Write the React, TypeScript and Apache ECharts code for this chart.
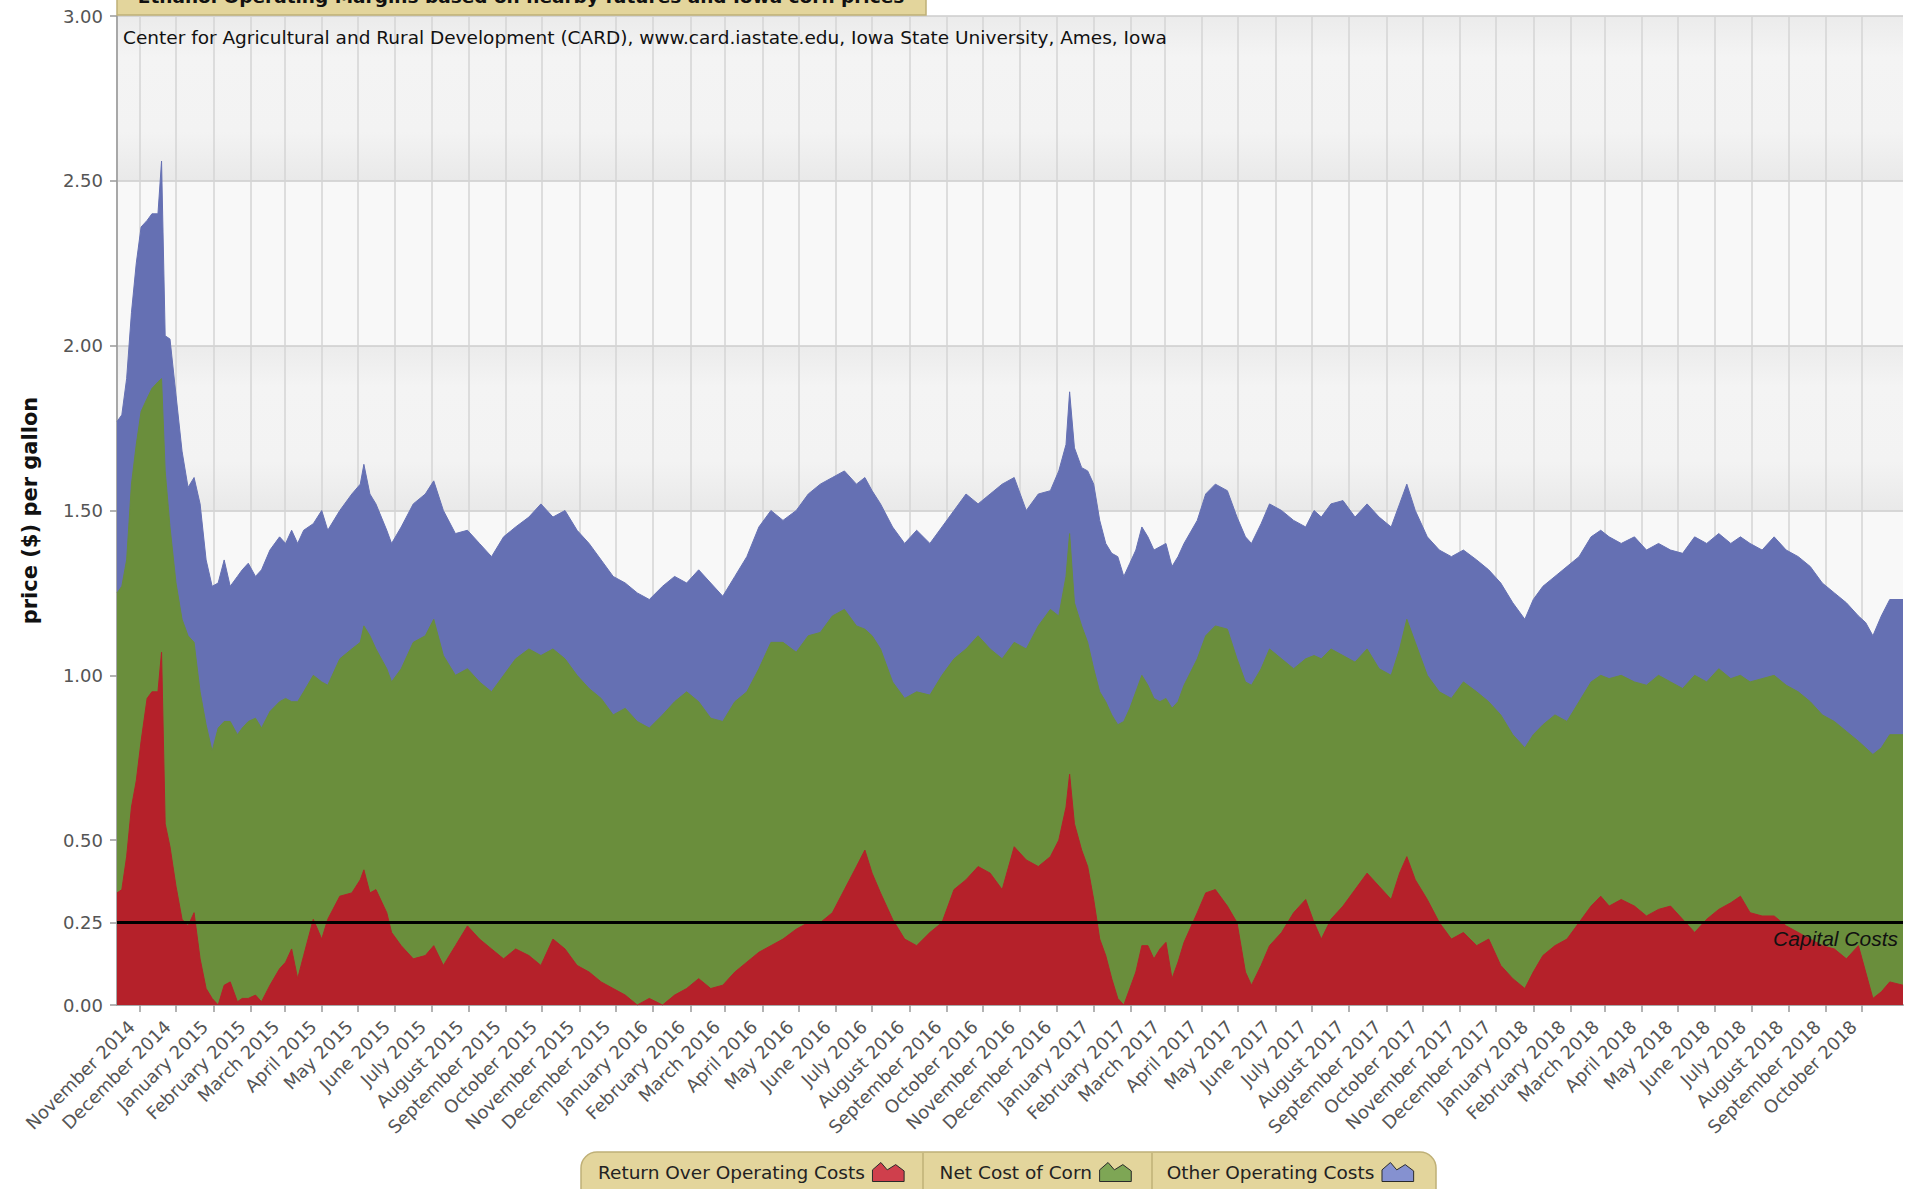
import React, { useEffect, useRef } from "react";
import * as echarts from "echarts";

// ---------- data ----------
const START_UTC = Date.UTC(2014, 9, 13); // first day shown on the x axis
const DAY_COUNT = 1484;
const LAST_LABELLED_MONTH = "2018-10-01";
const MONTHS = ["January", "February", "March", "April", "May", "June", "July", "August", "September", "October", "November", "December"];

const TITLE = "Ethanol Operating Margins based on nearby futures and Iowa corn prices";
const SUBTITLE = "Center for Agricultural and Rural Development (CARD), www.card.iastate.edu, Iowa State University, Ames, Iowa";
const Y_NAME = "price ($) per gallon";
const SERIES_NAMES = ["Return Over Operating Costs", "Net Cost of Corn", "Other Operating Costs"];
const Y_LABELS = [0, 0.25, 0.5, 1, 1.5, 2, 2.5, 3];
const CAPITAL_COST = 0.25;
const CAPITAL_LABEL = "Capital Costs";

// sample positions: day index counted from START_UTC
const sampleDay = [
  0, 4, 8, 12, 16, 20, 25, 29, 34, 37,
  40, 44, 49, 54, 59, 64, 69, 74, 79, 84,
  89, 94, 100, 104, 109, 115, 120, 127, 135, 140,
  145, 150, 155, 163, 170, 175, 185, 195, 202, 205,
  210, 215, 224, 228, 236, 246, 256, 263, 271, 281,
  291, 301, 311, 321, 331, 342, 352, 362, 372, 382,
  392, 402, 412, 422, 432, 442, 453, 463, 473, 483,
  493, 503, 513, 523, 533, 543, 553, 564, 574, 584,
  594, 604, 614, 621, 627, 634, 644, 654, 664, 675,
  685, 695, 705, 715, 725, 735, 745, 755, 765, 775,
  782, 788, 791, 795, 801, 806, 811, 816, 821, 826,
  831, 836, 841, 846, 851, 856, 861, 866, 871, 876,
  881, 886, 897, 904, 912, 922, 930, 937, 942, 950,
  957, 967, 977, 987, 994, 1000, 1008, 1018, 1028, 1038,
  1048, 1058, 1065, 1071, 1078, 1088, 1098, 1108, 1118, 1129,
  1139, 1149, 1159, 1169, 1176, 1184, 1194, 1204, 1214, 1224,
  1232, 1239, 1249, 1260, 1270, 1280, 1290, 1300, 1310, 1320,
  1330, 1340, 1348, 1356, 1366, 1376, 1386, 1396, 1406, 1416,
  1426, 1436, 1446, 1452, 1458, 1465, 1472, 1483,
];

// top of the blue area (other operating costs)
const otherTop = [
  1.77, 1.79, 1.90, 2.10, 2.25, 2.36, 2.38, 2.40, 2.40, 2.56,
  2.03, 2.02, 1.85, 1.68, 1.57, 1.60, 1.52, 1.35, 1.27, 1.28,
  1.35, 1.27, 1.30, 1.32, 1.34, 1.30, 1.32, 1.38, 1.42, 1.40,
  1.44, 1.40, 1.44, 1.46, 1.50, 1.44, 1.50, 1.55, 1.58, 1.64,
  1.55, 1.52, 1.44, 1.40, 1.45, 1.52, 1.55, 1.59, 1.50, 1.43,
  1.44, 1.40, 1.36, 1.42, 1.45, 1.48, 1.52, 1.48, 1.50, 1.44,
  1.40, 1.35, 1.30, 1.28, 1.25, 1.23, 1.27, 1.30, 1.28, 1.32,
  1.28, 1.24, 1.30, 1.36, 1.45, 1.50, 1.47, 1.50, 1.55, 1.58,
  1.60, 1.62, 1.58, 1.60, 1.56, 1.52, 1.45, 1.40, 1.44, 1.40,
  1.45, 1.50, 1.55, 1.52, 1.55, 1.58, 1.60, 1.50, 1.55, 1.56,
  1.62, 1.70, 1.86, 1.69, 1.63, 1.62, 1.58, 1.47, 1.40, 1.37,
  1.36, 1.30, 1.34, 1.38, 1.45, 1.42, 1.38, 1.39, 1.40, 1.33,
  1.36, 1.40, 1.47, 1.55, 1.58, 1.56, 1.48, 1.42, 1.40, 1.46,
  1.52, 1.50, 1.47, 1.45, 1.50, 1.48, 1.52, 1.53, 1.48, 1.52,
  1.48, 1.45, 1.52, 1.58, 1.50, 1.42, 1.38, 1.36, 1.38, 1.35,
  1.32, 1.28, 1.22, 1.17, 1.23, 1.27, 1.30, 1.33, 1.36, 1.42,
  1.44, 1.42, 1.40, 1.42, 1.38, 1.40, 1.38, 1.37, 1.42, 1.40,
  1.43, 1.40, 1.42, 1.40, 1.38, 1.42, 1.38, 1.36, 1.33, 1.28,
  1.25, 1.22, 1.18, 1.16, 1.12, 1.18, 1.23, 1.23,
];

// top of the green area (net cost of corn)
const cornTop = [
  1.25, 1.27, 1.35, 1.58, 1.70, 1.80, 1.84, 1.87, 1.89, 1.90,
  1.62, 1.45, 1.28, 1.17, 1.12, 1.10, 0.95, 0.85, 0.77, 0.84,
  0.86, 0.86, 0.82, 0.84, 0.86, 0.87, 0.84, 0.89, 0.92, 0.93,
  0.92, 0.92, 0.95, 1.00, 0.98, 0.97, 1.05, 1.08, 1.10, 1.15,
  1.12, 1.08, 1.02, 0.98, 1.02, 1.10, 1.12, 1.17, 1.06, 1.00,
  1.02, 0.98, 0.95, 1.00, 1.05, 1.08, 1.06, 1.08, 1.05, 1.00,
  0.96, 0.93, 0.88, 0.90, 0.86, 0.84, 0.88, 0.92, 0.95, 0.92,
  0.87, 0.86, 0.92, 0.95, 1.02, 1.10, 1.10, 1.07, 1.12, 1.13,
  1.18, 1.20, 1.15, 1.14, 1.12, 1.08, 0.98, 0.93, 0.95, 0.94,
  1.00, 1.05, 1.08, 1.12, 1.08, 1.05, 1.10, 1.08, 1.15, 1.20,
  1.18, 1.30, 1.43, 1.22, 1.15, 1.10, 1.02, 0.95, 0.92, 0.88,
  0.85, 0.86, 0.90, 0.95, 1.00, 0.97, 0.93, 0.92, 0.93, 0.90,
  0.92, 0.97, 1.05, 1.12, 1.15, 1.14, 1.05, 0.98, 0.97, 1.02,
  1.08, 1.05, 1.02, 1.05, 1.06, 1.05, 1.08, 1.06, 1.04, 1.08,
  1.02, 1.00, 1.08, 1.17, 1.10, 1.00, 0.95, 0.93, 0.98, 0.95,
  0.92, 0.88, 0.82, 0.78, 0.82, 0.85, 0.88, 0.86, 0.92, 0.98,
  1.00, 0.99, 1.00, 0.98, 0.97, 1.00, 0.98, 0.96, 1.00, 0.98,
  1.02, 0.99, 1.00, 0.98, 0.99, 1.00, 0.97, 0.95, 0.92, 0.88,
  0.86, 0.83, 0.80, 0.78, 0.76, 0.78, 0.82, 0.82,
];

// top of the red area (return over operating costs)
const returnTop = [
  0.34, 0.35, 0.45, 0.60, 0.68, 0.80, 0.93, 0.95, 0.95, 1.07,
  0.55, 0.48, 0.36, 0.26, 0.24, 0.28, 0.14, 0.05, 0.02, 0.00,
  0.06, 0.07, 0.01, 0.02, 0.02, 0.03, 0.01, 0.06, 0.11, 0.13,
  0.17, 0.08, 0.15, 0.26, 0.20, 0.26, 0.33, 0.34, 0.38, 0.41,
  0.34, 0.35, 0.28, 0.22, 0.18, 0.14, 0.15, 0.18, 0.12, 0.18,
  0.24, 0.20, 0.17, 0.14, 0.17, 0.15, 0.12, 0.20, 0.17, 0.12,
  0.10, 0.07, 0.05, 0.03, 0.00, 0.02, 0.00, 0.03, 0.05, 0.08,
  0.05, 0.06, 0.10, 0.13, 0.16, 0.18, 0.20, 0.23, 0.25, 0.25,
  0.28, 0.35, 0.42, 0.47, 0.40, 0.34, 0.26, 0.20, 0.18, 0.22,
  0.25, 0.35, 0.38, 0.42, 0.40, 0.35, 0.48, 0.44, 0.42, 0.45,
  0.50, 0.60, 0.70, 0.55, 0.47, 0.42, 0.32, 0.20, 0.15, 0.08,
  0.02, 0.00, 0.05, 0.10, 0.18, 0.18, 0.14, 0.17, 0.19, 0.08,
  0.13, 0.19, 0.28, 0.34, 0.35, 0.30, 0.25, 0.10, 0.06, 0.12,
  0.18, 0.22, 0.28, 0.32, 0.25, 0.20, 0.26, 0.30, 0.35, 0.40,
  0.36, 0.32, 0.40, 0.45, 0.38, 0.32, 0.25, 0.20, 0.22, 0.18,
  0.20, 0.12, 0.08, 0.05, 0.10, 0.15, 0.18, 0.20, 0.25, 0.30,
  0.33, 0.30, 0.32, 0.30, 0.27, 0.29, 0.30, 0.26, 0.22, 0.26,
  0.29, 0.31, 0.33, 0.28, 0.27, 0.27, 0.24, 0.22, 0.20, 0.18,
  0.17, 0.14, 0.18, 0.10, 0.02, 0.04, 0.07, 0.06,
];

// ---------- styling ----------
const RED = "#b5212a";
const GREEN = "#6a8e3c";
const BLUE = "#6570b3";
const TAN = "#e3d59c";
const TAN_BORDER = "#bfb077";
const SANS = '"DejaVu Sans", Verdana, sans-serif';

const categories: string[] = [];
for (let i = 0; i < DAY_COUNT; i++) {
  categories.push(new Date(START_UTC + i * 86400000).toISOString().slice(0, 10));
}
const isMonthStart = (_i: number, v: string) => v.slice(8, 10) === "01" && v <= LAST_LABELLED_MONTH;
const monthLabel = (v: string) => `${MONTHS[Number(v.slice(5, 7)) - 1]} ${v.slice(0, 4)}`;

const mountain = "path://M0 20 L0 9 L8 2 L14 9 L22 4 L30 10 L30 20 Z";

function areaSeries(name: string, values: number[], color: string, z: number, extra: any = {}) {
  return {
    name,
    type: "line",
    data: sampleDay.map((d, i) => [d, values[i]]),
    showSymbol: false,
    symbol: "none",
    z,
    silent: true,
    lineStyle: { width: 1, color },
    itemStyle: { color },
    areaStyle: { color, opacity: 1 },
    emphasis: { disabled: true },
    ...extra,
  };
}

export default function App() {
  const ref = useRef<HTMLDivElement>(null);
  useEffect(() => {
    if (!ref.current) return;
    const chart = echarts.init(ref.current, undefined, { renderer: "svg" });
    const bandGradient = new echarts.graphic.LinearGradient(0, 0, 0, 1, [
      { offset: 0, color: "#ebebeb" },
      { offset: 0.25, color: "#f4f4f4" },
      { offset: 0.7, color: "#f3f3f3" },
      { offset: 1, color: "#e9e9e9" },
    ]);
    chart.setOption({
      animation: false,
      backgroundColor: "#ffffff",
      grid: { left: 117, right: 2, top: 16, bottom: 184, containLabel: false },
      xAxis: {
        type: "category",
        data: categories,
        boundaryGap: false,
        axisLine: { show: true, lineStyle: { color: "#a8a8a8", width: 2 } },
        axisTick: { show: true, interval: isMonthStart, length: 7, lineStyle: { color: "#9a9a9a", width: 1.5 } },
        axisLabel: {
          interval: isMonthStart,
          formatter: monthLabel,
          rotate: 45,
          color: "#555555",
          fontSize: 18,
          fontFamily: SANS,
          margin: 10,
          padding: [0, 12, 0, 0],
        },
        splitLine: { show: true, interval: isMonthStart, lineStyle: { color: "#d4d4d4", width: 1.5 } },
      },
      yAxis: {
        type: "value",
        min: 0,
        max: 3,
        interval: 0.5,
        name: Y_NAME,
        nameLocation: "middle",
        nameRotate: 90,
        nameGap: 77,
        nameTextStyle: { fontWeight: "bold", fontSize: 21, color: "#111111", fontFamily: SANS },
        axisLine: { show: true, lineStyle: { color: "#a8a8a8", width: 2 } },
        axisTick: { show: true, length: 7, customValues: Y_LABELS, lineStyle: { color: "#9a9a9a", width: 1.5 } },
        axisLabel: {
          customValues: Y_LABELS,
          formatter: (v: number) => v.toFixed(2),
          color: "#555555",
          fontSize: 18,
          fontFamily: SANS,
          margin: 14,
        },
        splitLine: { show: true, lineStyle: { color: "#cdcdcd", width: 1.5 } },
        splitArea: { show: true, areaStyle: { color: [bandGradient, "#f8f8f8"] } },
      },
      legend: {
        show: true,
        left: 598,
        top: 1162,
        padding: 0,
        itemGap: 35,
        itemWidth: 37,
        itemHeight: 19,
        align: "right",
        selectedMode: false,
        textStyle: { fontSize: 18.5, color: "#222222", fontFamily: SANS },
        data: [
          { name: SERIES_NAMES[0], icon: mountain, itemStyle: { color: "#cf3f4c", borderColor: "#2a2a2a", borderWidth: 1 } },
          { name: SERIES_NAMES[1], icon: mountain, itemStyle: { color: "#7ea655", borderColor: "#2a2a2a", borderWidth: 1 } },
          { name: SERIES_NAMES[2], icon: mountain, itemStyle: { color: "#8591d0", borderColor: "#2a2a2a", borderWidth: 1 } },
        ],
      },
      graphic: [
        {
          type: "rect",
          z: 1,
          shape: { x: 581, y: 1152, width: 855, height: 70, r: [16, 16, 0, 0] },
          style: { fill: TAN, stroke: TAN_BORDER, lineWidth: 1.5 },
        },
        { type: "line", z: 2, shape: { x1: 923, y1: 1153, x2: 923, y2: 1189 }, style: { stroke: TAN_BORDER, lineWidth: 1.5 } },
        { type: "line", z: 2, shape: { x1: 1152, y1: 1153, x2: 1152, y2: 1189 }, style: { stroke: TAN_BORDER, lineWidth: 1.5 } },
        {
          type: "rect",
          z: 50,
          shape: { x: 117, y: -24, width: 809, height: 39 },
          style: { fill: TAN, stroke: TAN_BORDER, lineWidth: 1.5 },
        },
        {
          type: "text",
          z: 51,
          x: 521,
          y: -4,
          style: {
            text: TITLE,
            align: "center",
            verticalAlign: "middle",
            fontSize: 18.5,
            fontWeight: "bold",
            fontFamily: SANS,
            fill: "#111111",
          },
        },
        {
          type: "text",
          z: 51,
          x: 123,
          y: 37,
          style: {
            text: SUBTITLE,
            align: "left",
            verticalAlign: "middle",
            fontSize: 18.5,
            fontFamily: SANS,
            fill: "#111111",
          },
        },
      ],
      series: [
        areaSeries(SERIES_NAMES[2], otherTop, BLUE, 2),
        areaSeries(SERIES_NAMES[1], cornTop, GREEN, 3),
        areaSeries(SERIES_NAMES[0], returnTop, RED, 4, {
          markLine: {
            silent: true,
            symbol: "none",
            animation: false,
            lineStyle: { color: "#000000", width: 3, type: "solid" },
            label: {
              show: true,
              position: "insideEndBottom",
              formatter: CAPITAL_LABEL,
              fontStyle: "italic",
              fontSize: 21,
              fontFamily: '"Liberation Sans", Arial, sans-serif',
              color: "#111111",
              distance: 5,
            },
            data: [{ yAxis: CAPITAL_COST }],
          },
        }),
      ],
    });
    return () => chart.dispose();
  }, []);
  return (
    <div
      ref={ref}
      style={{ position: "absolute", left: 0, top: 0, width: 1905, height: 1189 }}
    />
  );
}
